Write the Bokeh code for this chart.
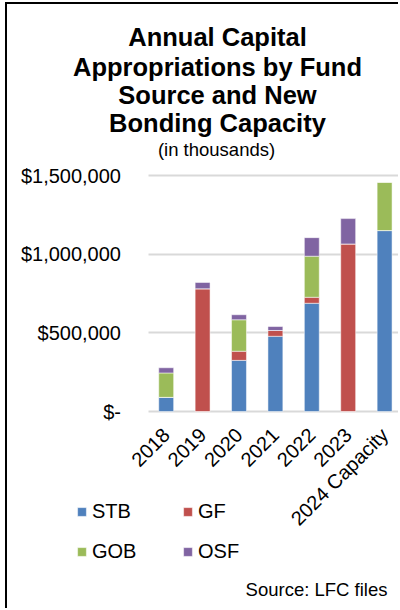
import math
from bokeh.plotting import figure
from bokeh.models import ColumnDataSource, Range1d, FixedTicker, Label, Legend, LegendItem
from bokeh.embed import file_html
from bokeh.resources import INLINE

categories = ["2018", "2019", "2020", "2021", "2022", "2023", "2024 Capacity"]
stb = [90000, 0, 325000, 478000, 688000, 0, 1150000]
gf = [0, 780000, 58000, 37000, 38000, 1065000, 0]
gob = [155000, 0, 200000, 0, 261000, 0, 307000]
osf = [33000, 40000, 32000, 25000, 118000, 161000, 0]
series = ["STB", "GF", "GOB", "OSF"]
colors = ["#4F81BD", "#C0504D", "#9BBB59", "#8064A2"]
y_ticks = [0, 500000, 1000000, 1500000]
y_tick_labels = ["$-", "$500,000", "$1,000,000", "$1,500,000"]
title_lines = ["Annual Capital", "Appropriations by Fund", "Source and New", "Bonding Capacity"]
subtitle = "(in thousands)"
source_note = "Source: LFC files"

FONT = "Liberation Sans"
# layout (page pixels); canvas placed at page (7, 4)
CX, CY = 7, 4
W, H = 393, 606
CAT_PX = 36.4          # pixels per category
X0_PAGE = 165.7        # page x of first category centre
Y0_PAGE = 411.0        # page y of value 0
YTOP_PAGE = 175.0      # page y of top tick
px_per_val = (Y0_PAGE - YTOP_PAGE) / y_ticks[-1]

x_start = (CX - X0_PAGE) / CAT_PX
x_end = (CX + W - X0_PAGE) / CAT_PX
y_end = (Y0_PAGE - CY) / px_per_val
y_start = -(CY + H - Y0_PAGE) / px_per_val

x = list(range(len(categories)))
src = ColumnDataSource(dict(x=x, STB=stb, GF=gf, GOB=gob, OSF=osf))

p = figure(width=W, height=H, output_backend="svg", toolbar_location=None,
           x_range=Range1d(x_start, x_end), y_range=Range1d(y_start, y_end),
           min_border_left=0, min_border_right=0, min_border_top=0, min_border_bottom=0)
p.title.visible = False
p.styles = {"margin-left": "5px", "margin-top": "2px",
            "border-left": "2px solid black", "border-top": "2px solid black"}
p.outline_line_color = None

rs = p.vbar_stack(series, x="x", width=0.41, color=colors, source=src,
                  line_color="white", line_alpha=0.5, line_width=1)

p.xgrid.visible = False
p.ygrid.ticker = FixedTicker(ticks=y_ticks)
p.ygrid.grid_line_color = "#D9D9D9"
p.ygrid.grid_line_width = 2
p.ygrid.cross_bounds = (-0.5, x_end)

p.yaxis.ticker = FixedTicker(ticks=y_ticks)
p.yaxis.major_label_overrides = {t: l for t, l in zip(y_ticks, y_tick_labels)}
p.yaxis.fixed_location = -0.5
p.xaxis.ticker = FixedTicker(ticks=x)
p.xaxis.major_label_overrides = {i: c for i, c in zip(x, categories)}
p.xaxis.major_label_orientation = math.pi / 4
p.xaxis.fixed_location = 0
for ax in (p.xaxis, p.yaxis):
    ax.axis_line_color = None
    ax.major_tick_line_color = None
    ax.minor_tick_line_color = None
    ax.major_tick_out = 0
    ax.major_tick_in = 0
    ax.major_label_text_font = FONT
    ax.major_label_text_font_size = "20px"
    ax.major_label_text_color = "black"
p.yaxis.major_label_standoff = 27
p.xaxis.major_label_standoff = 20


def sx(page_x):
    return page_x - CX


def sy(page_y):
    return CY + H - page_y


order = [0, 2, 1, 3]
legend = Legend(items=[LegendItem(label=series[i], renderers=[rs[i]]) for i in order],
                ncols=2, location=(sx(76), sy(563)), padding=0, margin=0, spacing=17,
                glyph_width=11, glyph_height=11, label_standoff=5, label_width=73,
                label_height=23, label_text_font=FONT, label_text_font_size="20px",
                label_text_color="black",
                border_line_color=None, background_fill_alpha=0)
p.add_layout(legend)

baselines = [36.5, 66.5, 94, 122.5]
for t, b in zip(title_lines, baselines):
    p.add_layout(Label(x=sx(217), y=sy(b), x_units="screen", y_units="screen", text=t,
                       text_align="center", text_baseline="alphabetic", text_color="black",
                       text_font=FONT, text_font_style="bold", text_font_size="25.5px"))
p.add_layout(Label(x=sx(216), y=sy(148.5), x_units="screen", y_units="screen", text=subtitle,
                   text_align="center", text_baseline="alphabetic", text_color="black",
                   text_font=FONT, text_font_size="18.5px"))
p.add_layout(Label(x=sx(387), y=sy(588.5), x_units="screen", y_units="screen", text=source_note,
                   text_align="right", text_baseline="alphabetic", text_color="black",
                   text_font=FONT, text_font_size="18.5px"))

open("out.html", "w").write(file_html(p, INLINE))
